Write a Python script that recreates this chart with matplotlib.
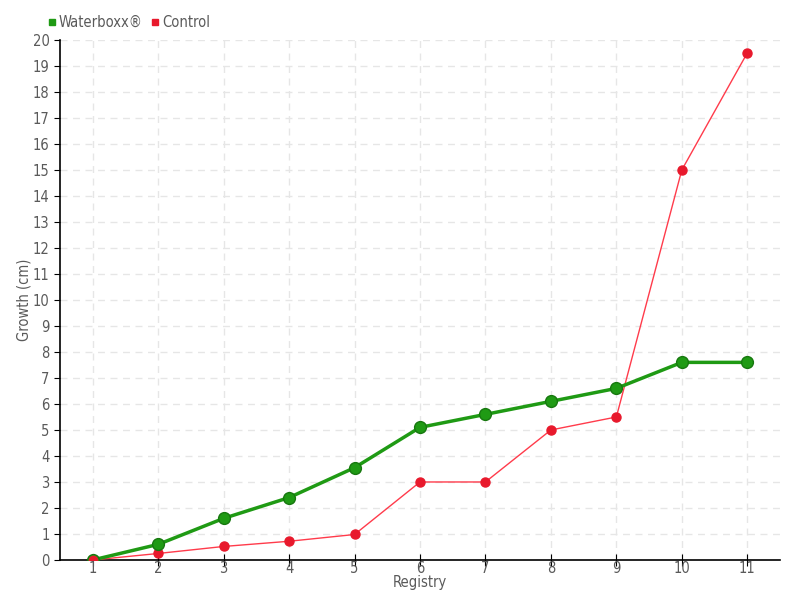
import numpy as np
import matplotlib.pyplot as plt
from matplotlib.lines import Line2D

registry = [1, 2, 3, 4, 5, 6, 7, 8, 9, 10, 11]
waterboxx = [0, 0.6, 1.6, 2.4, 3.55, 5.1, 5.6, 6.1, 6.6, 7.6, 7.6]
control = [0, 0.25, 0.52, 0.72, 0.98, 3, 3, 5, 5.5, 15, 19.5]

green = '#1f9a14'
red = '#e8192c'
txt = '#5a5a5a'

plt.rcParams['font.family'] = ['DejaVu Sans']
plt.rcParams['font.stretch'] = 'condensed'

fig = plt.figure(figsize=(8, 6), dpi=100)
ax = fig.add_axes([0.075, 0.0667, 0.9, 0.8667])

ax.plot(registry, control, color='#ff3b4b', lw=1, marker='o', ms=6.5,
        mfc=red, mec=red, zorder=3)
ax.plot(registry, waterboxx, color=green, lw=2.5, marker='o', ms=8.5,
        mfc=green, mec='#17780f', mew=1, zorder=4)
ax.plot(registry[:1], control[:1], 'o', color=red, ms=6, zorder=5)

ax.set_xlim(0.5, 11.5)
ax.set_ylim(0, 20)
ax.set_xticks(registry)
ax.set_yticks(range(0, 21))
ax.grid(True, color='#e6e6e6', ls=(0, (5, 4)), lw=1)
ax.set_axisbelow(True)

for s in ['top', 'right']:
    ax.spines[s].set_visible(False)
ax.spines['left'].set_linewidth(1.2)
ax.spines['bottom'].set_linewidth(1.2)
ax.tick_params(axis='y', direction='out', length=4, colors='black',
               labelcolor=txt, labelsize=10.5)
ax.tick_params(axis='x', direction='inout', length=8, colors='black',
               labelcolor=txt, labelsize=10.5, pad=-3)

ax.set_xlabel('Registry', color=txt, fontsize=10.5, labelpad=-1)
ax.set_ylabel('Growth (cm)', color=txt, fontsize=10.5, labelpad=1)

handles = [Line2D([], [], ls='none', marker='s', ms=5, color=green),
           Line2D([], [], ls='none', marker='s', ms=5, color=red)]
leg = fig.legend(handles, ['Waterboxx®', 'Control'], loc='center left',
                 bbox_to_anchor=(0.061, 0.963), ncol=2, frameon=False,
                 handlelength=0.5, handletextpad=0.2, columnspacing=0.6,
                 fontsize=10.5, borderaxespad=0, borderpad=0)
for t in leg.get_texts():
    t.set_color(txt)

fig.savefig('out.png', dpi=100)
